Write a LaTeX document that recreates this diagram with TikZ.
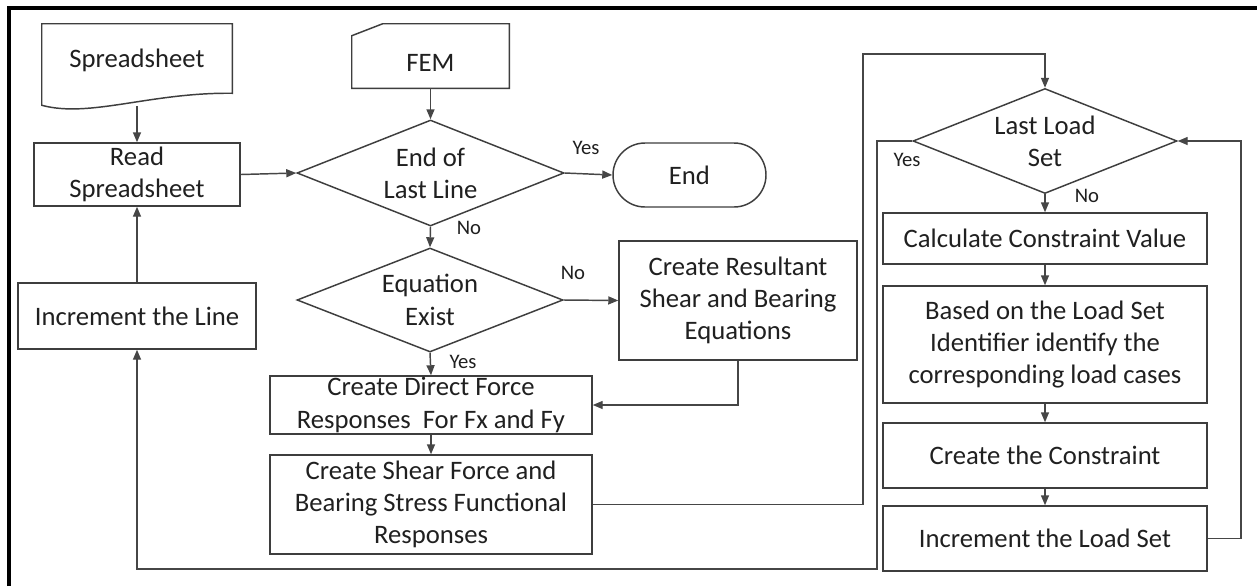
\documentclass[tikz,border=0pt]{standalone}
\usepackage{fontspec}
\setmainfont{Carlito}
\usetikzlibrary{arrows.meta,shapes.geometric,shapes.misc,calc}

\definecolor{boxgray}{HTML}{3E3E3E}
\definecolor{linegray}{HTML}{464646}
\definecolor{txt}{HTML}{202020}
\newcommand\mainsz{\fontsize{20}{24.2}\selectfont}
\newcommand\lblsz{\fontsize{15.5}{18}\selectfont}

\begin{document}
\begin{tikzpicture}[x=0.75pt,y=-0.75pt,
  boxline/.style={draw=boxgray, line width=1.1pt},
  conn/.style={draw=linegray, line width=1.1pt},
  arr/.style={conn, -{Triangle[length=7.5pt,width=6pt]}},
  sz/.style 2 args={minimum width=#1*0.75pt, minimum height=#2*0.75pt},
  box/.style={boxline, rectangle, inner sep=0pt, align=center, font=\mainsz, text=txt},
  dec/.style={box, diamond, aspect=2.5},
  plain/.style={inner sep=0pt, align=center, font=\mainsz, text=txt},
  lbl/.style={inner sep=0pt, font=\lblsz, text=txt},
]
\useasboundingbox (0,0) rectangle (1257,586);
\fill[white] (0,0) rectangle (1257,586);

% outer frame (top and left edges)
\draw[black, line width=2.3pt] (9,586) -- (9,8) -- (1257,8);

% input document: Spreadsheet
\node[sz={190}{82}, inner sep=0pt] (spr) at (137,65) {};
\draw[boxline] (spr.north west) -- (spr.north east) -- ($(spr.south east)+(0,-13)$)
  .. controls ($(spr.south east)+(-82,-14)$) and ($(spr.south west)+(48,12)$) .. ($(spr.south west)+(0,-1)$) -- cycle;
\node[plain] (sprtxt) at (137,60) {Spreadsheet};

% input card: FEM
\node[sz={157}{64}, inner sep=0pt] (fem) at (430.5,56) {};
\draw[boxline] ($(fem.north west)+(0,12)$) -- ($(fem.north west)+(31,0)$) -- (fem.north east)
  -- (fem.south east) -- (fem.south west) -- cycle;
\node[plain] (femtxt) at (430.5,63) {FEM};

% main column
\node[box, sz={206}{63}] (read) at (137,174.5) {Read\\Spreadsheet};
\node[dec, sz={267}{106}] (d1) at (430.5,173) {End of\\Last Line};
\node[box, rounded rectangle, sz={153}{64}] (endn) at (689.5,175) {End};
\node[dec, sz={266}{104}] (d2) at (430,300) {Equation\\Exist};
\node[box, sz={238}{119}] (res) at (738,300.5) {Create Resultant\\Shear and Bearing\\Equations};
\node[box, sz={322}{58}] (dir) at (431,405) {Create Direct Force\\Responses\ \ For Fx and Fy};
\node[box, sz={322}{99}] (shr) at (431,504.5) {Create Shear Force and\\Bearing Stress Functional\\Responses};
\node[box, sz={238}{66}] (incl) at (137,316) {Increment the Line};

% load set loop
\node[dec, sz={264}{105}] (d3) at (1045,141) {Last Load\\Set};
\node[box, sz={324}{51}] (calc) at (1045,238.5) {Calculate Constraint Value};
\node[box, sz={324}{117}] (based) at (1045,344.5) {Based on the Load Set\\Identifier identify the\\corresponding load cases};
\node[box, sz={324}{65}] (cons) at (1045,455.5) {Create the Constraint};
\node[box, sz={324}{65}] (incs) at (1045,538.5) {Increment the Load Set};

% bend points
\coordinate (up) at (863,54);
\coordinate (back) at (877,569);
\coordinate (loopr) at (1241,141);

% connectors
\draw[arr] (spr.south) -- (read.north);
\draw[arr] (read.east) -- (d1.west);
\draw[arr] (fem.south) -- (d1.north);
\draw[arr] (d1.east) -- (endn.west);
\draw[arr] (d1.south) -- (d2.north);
\draw[arr] (d2.east) -- (res.west);
\draw[arr] (d2.south) -- (dir.north);
\draw[arr] (res.south) |- (dir.east);
\draw[arr] (dir.south) -- (shr.north);
\draw[arr] (shr.east) -| (up) -| (d3.north);
\draw[arr] (d3.west) -| (back) -| (incl.south);
\draw[arr] (incl.north) -- (read.south);
\draw[arr] (d3.south) -- (calc.north);
\draw[arr] (calc.south) -- (based.north);
\draw[arr] (based.south) -- (cons.north);
\draw[arr] (cons.south) -- (incs.north);
\draw[arr] (incs.east) -| (loopr) -- (d3.east);

% branch labels
\node[lbl] (l1) at (586,148) {Yes};
\node[lbl] (l2) at (469,228) {No};
\node[lbl] (l3) at (573,273) {No};
\node[lbl] (l4) at (463,362) {Yes};
\node[lbl] (l5) at (907,160) {Yes};
\node[lbl] (l6) at (1087,196) {No};
\end{tikzpicture}
\end{document}
